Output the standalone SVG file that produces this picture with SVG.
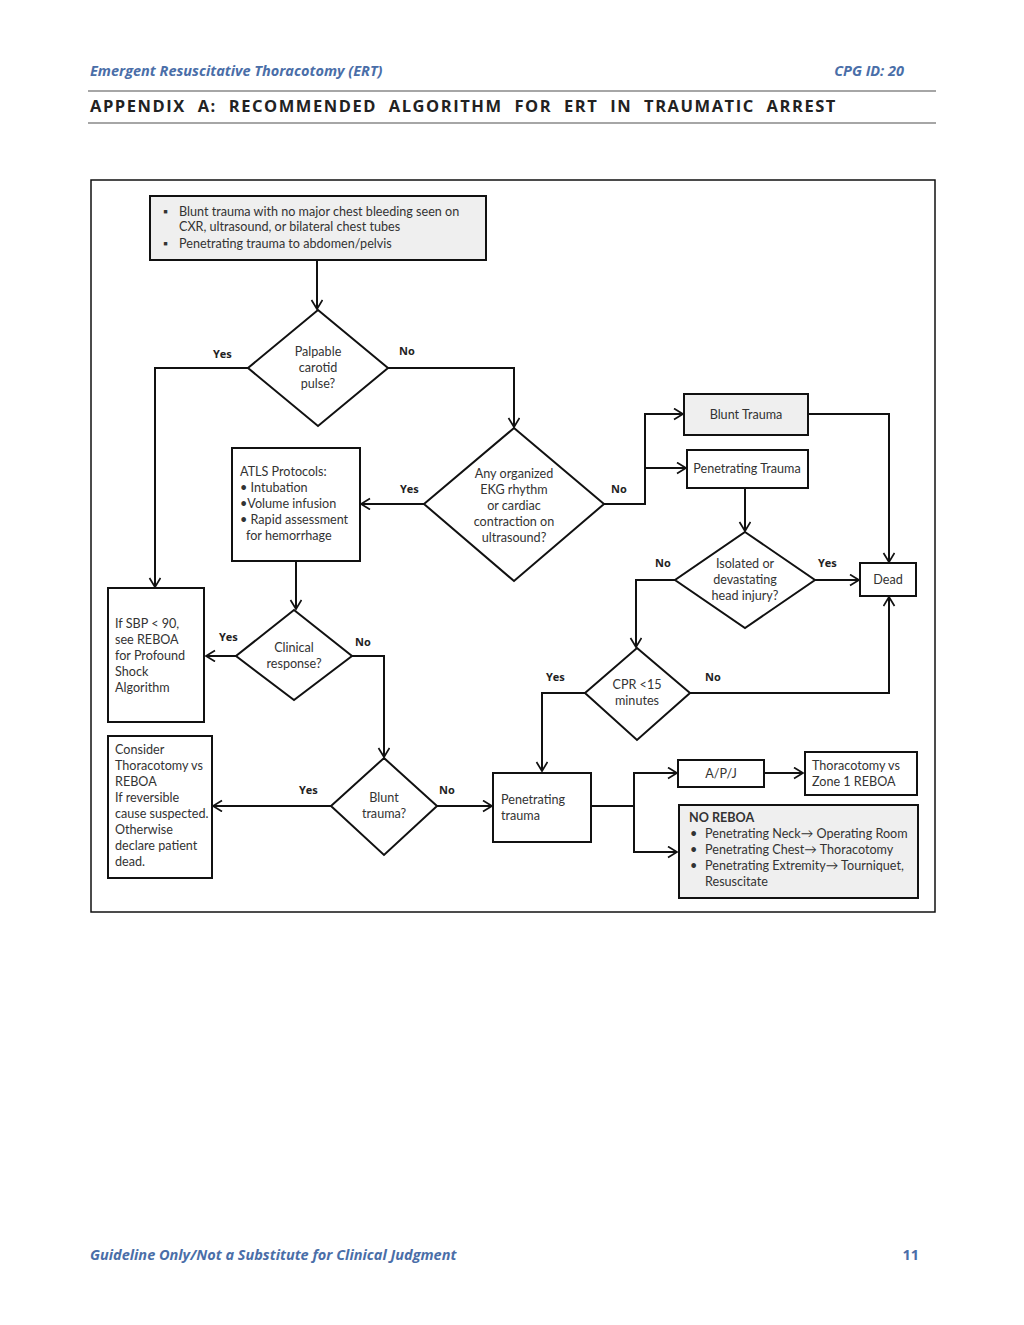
<svg xmlns="http://www.w3.org/2000/svg" width="1024" height="1325" viewBox="0 0 1024 1325">
<defs>
<marker id="ah" markerWidth="14" markerHeight="14" refX="10" refY="6" orient="auto" markerUnits="userSpaceOnUse">
<path d="M1,0.5 L10,6 L1,11.5" fill="none" stroke="#111" stroke-width="1.7"/>
</marker>
<style>
.hdr{font-family:"Open Sans","Liberation Sans",sans-serif;font-weight:bold;font-style:italic;fill:#4a6ea8;font-size:14.5px}
.ttl{font-family:"Open Sans","Liberation Sans",sans-serif;font-weight:bold;fill:#222;font-size:16.5px;letter-spacing:1.55px;word-spacing:6px}
.box{fill:#fff;stroke:#111;stroke-width:2}
.gbox{fill:#efefef;stroke:#111;stroke-width:2}
.dia{fill:#fff;stroke:#111;stroke-width:2}
.t{font-family:Lato,"Open Sans","Liberation Sans",sans-serif;font-size:12.6px;fill:#333}
.tc{font-family:Lato,"Open Sans","Liberation Sans",sans-serif;font-size:12.6px;fill:#333;text-anchor:middle}
.lb{font-family:"Open Sans","Liberation Sans",sans-serif;font-size:11px;font-weight:bold;fill:#222}
.c{fill:none;stroke:#111;stroke-width:2}
</style>
</defs>
<rect width="1024" height="1325" fill="#fff"/>
<g id="header">
<text class="hdr" x="90" y="76">Emergent Resuscitative Thoracotomy (ERT)</text>
<text class="hdr" x="904" y="76" text-anchor="end">CPG ID: 20</text>
<line x1="88" y1="91" x2="936" y2="91" stroke="#888" stroke-width="1.5"/>
<text class="ttl" x="90" y="112">APPENDIX A: RECOMMENDED ALGORITHM FOR ERT IN TRAUMATIC ARREST</text>
<line x1="88" y1="123" x2="936" y2="123" stroke="#888" stroke-width="1.5"/>
</g>
<rect x="91" y="180" width="844" height="732" fill="none" stroke="#111" stroke-width="1.5"/>
<g id="connectors">
<path class="c" d="M317,260 V309" marker-end="url(#ah)"/>
<path class="c" d="M248,368 H155 V587" marker-end="url(#ah)"/>
<path class="c" d="M388,368 H514 V427" marker-end="url(#ah)"/>
<path class="c" d="M424,504 H361" marker-end="url(#ah)"/>
<path class="c" d="M604,504 H645 V414 H683" marker-end="url(#ah)"/>
<path class="c" d="M645,468 H686" marker-end="url(#ah)"/>
<path class="c" d="M808,414 H889 V562" marker-end="url(#ah)"/>
<path class="c" d="M745,488 V531" marker-end="url(#ah)"/>
<path class="c" d="M815,580 H859" marker-end="url(#ah)"/>
<path class="c" d="M675,580 H636 V647" marker-end="url(#ah)"/>
<path class="c" d="M690,693 H889 V597" marker-end="url(#ah)"/>
<path class="c" d="M585,693 H542 V771" marker-end="url(#ah)"/>
<path class="c" d="M591,806 H634 V773 H677" marker-end="url(#ah)"/>
<path class="c" d="M634,806 V852 H677" marker-end="url(#ah)"/>
<path class="c" d="M764,773 H803" marker-end="url(#ah)"/>
<path class="c" d="M296,561 V609" marker-end="url(#ah)"/>
<path class="c" d="M236,656 H206" marker-end="url(#ah)"/>
<path class="c" d="M352,656 H384 V757" marker-end="url(#ah)"/>
<path class="c" d="M331,806 H213" marker-end="url(#ah)"/>
<path class="c" d="M437,806 H492" marker-end="url(#ah)"/>
</g>
<g id="labels">
<text class="lb" x="213" y="358">Yes</text>
<text class="lb" x="399" y="355">No</text>
<text class="lb" x="400" y="493">Yes</text>
<text class="lb" x="611" y="493">No</text>
<text class="lb" x="655" y="567">No</text>
<text class="lb" x="818" y="567">Yes</text>
<text class="lb" x="219" y="641">Yes</text>
<text class="lb" x="355" y="646">No</text>
<text class="lb" x="546" y="681">Yes</text>
<text class="lb" x="705" y="681">No</text>
<text class="lb" x="299" y="794">Yes</text>
<text class="lb" x="439" y="794">No</text>
</g>
<g id="start">
<rect class="gbox" x="150" y="196" width="336" height="64"/>
<text class="t" x="163" y="216">▪</text>
<text class="t" x="179" y="216">Blunt trauma with no major chest bleeding seen on</text>
<text class="t" x="179" y="231">CXR, ultrasound, or bilateral chest tubes</text>
<text class="t" x="163" y="248">▪</text>
<text class="t" x="179" y="248">Penetrating trauma to abdomen/pelvis</text>
</g>
<g id="carotid">
<polygon class="dia" points="318,310 388,368 318,426 248,368"/>
<text class="tc" x="318" y="356">Palpable</text>
<text class="tc" x="318" y="372">carotid</text>
<text class="tc" x="318" y="388">pulse?</text>
</g>
<g id="ekg">
<polygon class="dia" points="514,428 604,504 514,581 424,504"/>
<text class="tc" x="514" y="478">Any organized</text>
<text class="tc" x="514" y="494">EKG rhythm</text>
<text class="tc" x="514" y="510">or cardiac</text>
<text class="tc" x="514" y="526">contraction on</text>
<text class="tc" x="514" y="542">ultrasound?</text>
</g>
<g id="atls">
<rect class="box" x="232" y="448" width="128" height="113"/>
<text class="t" x="240" y="476">ATLS Protocols:</text>
<text class="t" x="240" y="492">• Intubation</text>
<text class="t" x="240" y="508">•Volume infusion</text>
<text class="t" x="240" y="524">• Rapid assessment</text>
<text class="t" x="246" y="540">for hemorrhage</text>
</g>
<g id="blunt">
<rect class="gbox" x="684" y="394" width="124" height="41"/>
<text class="tc" x="746" y="419">Blunt Trauma</text>
</g>
<g id="pen1">
<rect class="box" x="687" y="450" width="121" height="38"/>
<text class="tc" x="747" y="473">Penetrating Trauma</text>
</g>
<g id="head">
<polygon class="dia" points="745,532 815,580 745,628 675,580"/>
<text class="tc" x="745" y="568">Isolated or</text>
<text class="tc" x="745" y="584">devastating</text>
<text class="tc" x="745" y="600">head injury?</text>
</g>
<g id="dead">
<rect class="box" x="860" y="563" width="56" height="33"/>
<text class="tc" x="888" y="584">Dead</text>
</g>
<g id="cpr">
<polygon class="dia" points="637,648 690,693 637,740 585,693"/>
<text class="tc" x="637" y="689">CPR &lt;15</text>
<text class="tc" x="637" y="705">minutes</text>
</g>
<g id="pen2">
<rect class="box" x="493" y="773" width="98" height="69"/>
<text class="t" x="501" y="804">Penetrating</text>
<text class="t" x="501" y="820">trauma</text>
</g>
<g id="apj">
<rect class="box" x="678" y="760" width="86" height="27"/>
<text class="tc" x="721" y="778">A/P/J</text>
</g>
<g id="thor">
<rect class="box" x="805" y="752" width="112" height="43"/>
<text class="t" x="812" y="770">Thoracotomy vs</text>
<text class="t" x="812" y="786">Zone 1 REBOA</text>
</g>
<g id="noreboa">
<rect class="gbox" x="679" y="805" width="239" height="93"/>
<text class="t" x="689" y="822" fill="#222" style="font-weight:bold">NO REBOA</text>
<text class="t" x="690" y="838">•</text>
<text class="t" x="705" y="838">Penetrating Neck→ Operating Room</text>
<text class="t" x="690" y="854">•</text>
<text class="t" x="705" y="854">Penetrating Chest→ Thoracotomy</text>
<text class="t" x="690" y="870">•</text>
<text class="t" x="705" y="870">Penetrating Extremity→ Tourniquet,</text>
<text class="t" x="705" y="886">Resuscitate</text>
</g>
<g id="clinical">
<polygon class="dia" points="294,610 352,656 294,700 236,656"/>
<text class="tc" x="294" y="652">Clinical</text>
<text class="tc" x="294" y="668">response?</text>
</g>
<g id="sbp">
<rect class="box" x="108" y="588" width="96" height="134"/>
<text class="t" x="115" y="628">If SBP &lt; 90,</text>
<text class="t" x="115" y="644">see REBOA</text>
<text class="t" x="115" y="660">for Profound</text>
<text class="t" x="115" y="676">Shock</text>
<text class="t" x="115" y="692">Algorithm</text>
</g>
<g id="bluntq">
<polygon class="dia" points="384,758 437,806 384,855 331,806"/>
<text class="tc" x="384" y="802">Blunt</text>
<text class="tc" x="384" y="818">trauma?</text>
</g>
<g id="consider">
<rect class="box" x="108" y="736" width="104" height="142"/>
<text class="t" x="115" y="754">Consider</text>
<text class="t" x="115" y="770">Thoracotomy vs</text>
<text class="t" x="115" y="786">REBOA</text>
<text class="t" x="115" y="802"> If reversible</text>
<text class="t" x="115" y="818">cause suspected.</text>
<text class="t" x="115" y="834">Otherwise</text>
<text class="t" x="115" y="850">declare patient</text>
<text class="t" x="115" y="866">dead.</text>
</g>
<g id="footer">
<text class="hdr" x="90" y="1260">Guideline Only/Not a Substitute for Clinical Judgment</text>
<text class="hdr" x="919" y="1260" text-anchor="end" style="font-style:normal">11</text>
</g>
</svg>
